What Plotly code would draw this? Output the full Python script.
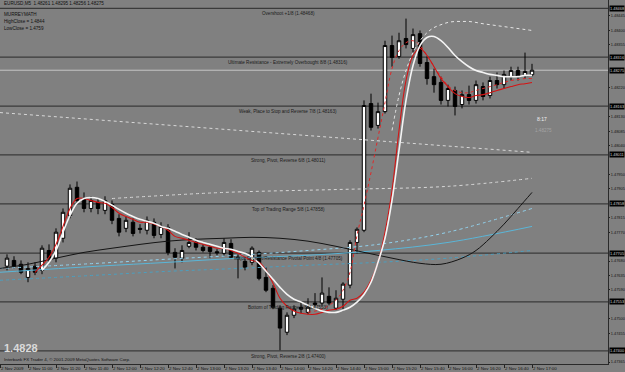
import plotly.graph_objects as go
import pandas as pd

# ---------------- data ----------------
times = pd.date_range("2009-11-02 10:45", periods=76, freq="5min")

opens = [1.47664, 1.47682, 1.47670, 1.47629, 1.47664, 1.47651, 1.47713, 1.47689, 1.47751, 1.47822,
         1.47910, 1.47875, 1.47844, 1.47863, 1.47838, 1.47857, 1.47813, 1.47782, 1.47801, 1.47782,
         1.47776, 1.47801, 1.47763, 1.47785, 1.47707, 1.47689, 1.47726, 1.47738, 1.47723, 1.47723,
         1.47709, 1.47704, 1.47735, 1.47692, 1.47679, 1.47676, 1.47707, 1.47629, 1.47595, 1.47533,
         1.47458, 1.47511, 1.47536, 1.47520, 1.47549, 1.47549, 1.47570, 1.47533, 1.47561, 1.47605,
         1.47738, 1.47776, 1.48171, 1.48103, 1.48146, 1.48352, 1.48318, 1.48374, 1.48343, 1.48389,
         1.48299, 1.48255, 1.48237, 1.48181, 1.48212, 1.48168, 1.48199, 1.48181, 1.48224, 1.48196,
         1.48243, 1.48230, 1.48255, 1.48274, 1.48259, 1.48261]
highs = [1.47701, 1.47695, 1.47682, 1.47676, 1.47676, 1.47729, 1.47732, 1.47782, 1.47844, 1.47919,
         1.47928, 1.47894, 1.47882, 1.47875, 1.47882, 1.47869, 1.47826, 1.47819, 1.47813, 1.47795,
         1.47819, 1.47813, 1.47801, 1.47795, 1.47720, 1.47729, 1.47770, 1.47751, 1.47732, 1.47729,
         1.47717, 1.47751, 1.47748, 1.47701, 1.47689, 1.47726, 1.47713, 1.47661, 1.47605, 1.47542,
         1.47520, 1.47542, 1.47552, 1.47564, 1.47580, 1.47629, 1.47598, 1.47589, 1.47614, 1.47745,
         1.47785, 1.48181, 1.48202, 1.48174, 1.48367, 1.48383, 1.48392, 1.48436, 1.48405, 1.48399,
         1.48318, 1.48280, 1.48255, 1.48230, 1.48224, 1.48212, 1.48227, 1.48243, 1.48237, 1.48255,
         1.48268, 1.48274, 1.48286, 1.48286, 1.48330, 1.48295]
lows = [1.47651, 1.47657, 1.47639, 1.47614, 1.47636, 1.47639, 1.47676, 1.47676, 1.47738, 1.47813,
        1.47860, 1.47832, 1.47832, 1.47826, 1.47826, 1.47795, 1.47757, 1.47770, 1.47757, 1.47766,
        1.47763, 1.47751, 1.47751, 1.47698, 1.47657, 1.47676, 1.47720, 1.47713, 1.47707, 1.47689,
        1.47698, 1.47695, 1.47686, 1.47626, 1.47651, 1.47667, 1.47620, 1.47583, 1.47530, 1.47402,
        1.47449, 1.47502, 1.47517, 1.47514, 1.47539, 1.47542, 1.47542, 1.47527, 1.47527, 1.47595,
        1.47704, 1.47770, 1.48087, 1.48093, 1.48140, 1.48286, 1.48311, 1.48343, 1.48330, 1.48286,
        1.48230, 1.48205, 1.48168, 1.48162, 1.48134, 1.48156, 1.48168, 1.48171, 1.48181, 1.48187,
        1.48218, 1.48218, 1.48243, 1.48243, 1.48249, 1.48256]
closes = [1.47689, 1.47664, 1.47645, 1.47657, 1.47645, 1.47720, 1.47689, 1.47770, 1.47832, 1.47907,
          1.47869, 1.47844, 1.47869, 1.47844, 1.47869, 1.47807, 1.47770, 1.47807, 1.47766, 1.47779,
          1.47807, 1.47760, 1.47788, 1.47707, 1.47692, 1.47713, 1.47738, 1.47723, 1.47713, 1.47710,
          1.47706, 1.47738, 1.47692, 1.47690, 1.47661, 1.47720, 1.47626, 1.47589, 1.47536, 1.47471,
          1.47511, 1.47530, 1.47530, 1.47536, 1.47545, 1.47580, 1.47549, 1.47564, 1.47608, 1.47738,
          1.47779, 1.48165, 1.48097, 1.48146, 1.48352, 1.48315, 1.48367, 1.48355, 1.48386, 1.48296,
          1.48249, 1.48230, 1.48181, 1.48218, 1.48162, 1.48199, 1.48181, 1.48230, 1.48193, 1.48243,
          1.48230, 1.48262, 1.48274, 1.48255, 1.48271, 1.48275]

# fast moving average (white) from 10:55, red from 10:50
white_ma = [1.47651, 1.47676, 1.47713, 1.47770, 1.47822, 1.47860, 1.47875, 1.47878, 1.47875, 1.47866,
            1.47854, 1.47841, 1.47829, 1.47819, 1.47810, 1.47804, 1.47798, 1.47788, 1.47782, 1.47773,
            1.47763, 1.47754, 1.47745, 1.47738, 1.47732, 1.47726, 1.47720, 1.47717, 1.47710, 1.47704,
            1.47692, 1.47673, 1.47648, 1.47623, 1.47598, 1.47576, 1.47561, 1.47552, 1.47542, 1.47533,
            1.47524, 1.47520, 1.47520, 1.47527, 1.47536, 1.47552, 1.47576, 1.47614, 1.47676, 1.47751,
            1.47869, 1.48025, 1.48181, 1.48290, 1.48352, 1.48377, 1.48380, 1.48367, 1.48346, 1.48321,
            1.48302, 1.48286, 1.48274, 1.48268, 1.48262, 1.48259, 1.48255, 1.48255, 1.48255, 1.48259,
            1.48259]
red_ma = [1.47645, 1.47667, 1.47692, 1.47732, 1.47788, 1.47844, 1.47875, 1.47875, 1.47869, 1.47863,
          1.47860, 1.47847, 1.47829, 1.47819, 1.47810, 1.47801, 1.47801, 1.47795, 1.47788, 1.47776,
          1.47757, 1.47751, 1.47745, 1.47738, 1.47732, 1.47726, 1.47720, 1.47720, 1.47713, 1.47704,
          1.47692, 1.47682, 1.47676, 1.47651, 1.47611, 1.47564, 1.47539, 1.47524, 1.47517, 1.47514,
          1.47514, 1.47520, 1.47527, 1.47530, 1.47539, 1.47558, 1.47564, 1.47583, 1.47620, 1.47676,
          1.47770, 1.47900, 1.48087, 1.48243, 1.48321, 1.48343, 1.48321, 1.48286, 1.48249, 1.48224,
          1.48202, 1.48193, 1.48190, 1.48196, 1.48199, 1.48205, 1.48212, 1.48218, 1.48224, 1.48230,
          1.48233, 1.48237]
# leading red dotted line from 14:20
red_dot = [1.47520, 1.47524, 1.47530, 1.47542, 1.47558, 1.47589, 1.47645, 1.47760, 1.47854, 1.47956,
           1.48065, 1.48174, 1.48280, 1.48336, 1.48361, 1.48367, 1.48352, 1.48321, 1.48286, 1.48255,
           1.48227, 1.48212, 1.48205, 1.48205, 1.48212, 1.48218, 1.48224, 1.48230, 1.48237, 1.48243,
           1.48246, 1.48249, 1.48249]
# upper white dotted envelope from 15:20
white_dot = [1.48087, 1.48196, 1.48274, 1.48330, 1.48367, 1.48392, 1.48408, 1.48417, 1.48424, 1.48427,
             1.48427, 1.48427, 1.48424, 1.48420, 1.48417, 1.48414, 1.48411, 1.48408, 1.48405, 1.48402,
             1.48399]

black_t = ["10:40", "11:00", "11:20", "11:40", "12:00", "12:20", "12:40", "13:00", "13:20", "13:40",
           "14:00", "14:20", "14:40", "15:00", "15:20", "15:40", "15:55", "16:10", "16:20", "16:30",
           "16:40", "16:50", "17:00"]
black_ma = [1.47657, 1.47670, 1.47689, 1.47707, 1.47720, 1.47732, 1.47742, 1.47748, 1.47751, 1.47754,
            1.47751, 1.47742, 1.47726, 1.47707, 1.47689, 1.47673, 1.47670, 1.47689, 1.47713, 1.47751,
            1.47795, 1.47844, 1.47894]

teal_t = ["10:40", "11:50", "12:40", "13:30", "14:20", "15:10", "16:00", "17:00"]
teal_a = [1.47645, 1.47664, 1.47676, 1.47689, 1.47698, 1.47713, 1.47738, 1.47788]
teal_b = [1.47657, 1.47673, 1.47686, 1.47698, 1.47713, 1.47732, 1.47770, 1.47844]
teal_c = [1.47620, 1.47636, 1.47648, 1.47657, 1.47667, 1.47676, 1.47689, 1.47713]

wd1_t = ["10:40", "12:40", "14:20", "16:00", "17:00"]
wd1 = [1.48143, 1.48104, 1.48072, 1.48039, 1.48019]
wd2_t = ["12:00", "13:20", "14:40", "16:00", "17:00"]
wd2 = [1.47875, 1.47894, 1.47903, 1.47913, 1.47938]

mm_levels = [1.48468, 1.48316, 1.48163, 1.48011, 1.47858, 1.47705, 1.47553, 1.47400]
mm_labels = ["Overshoot +1/8 (1.48468)",
             "Ultimate Resistance - Extremely Overbought 8/8 (1.48316)",
             "Weak, Place to Stop and Reverse 7/8 (1.48163)",
             "Strong, Pivot, Reverse 6/8 (1.48011)",
             "Top of Trading Range 5/8 (1.47858)",
             "Major Support/Resistance Pivotal Point 4/8 (1.47705)",
             "Bottom of Trading Range 3/8 (1.47553)",
             "Strong, Pivot, Reverse 2/8 (1.47400)"]
bid = 1.48275

y_ticks = [1.48445, 1.48400, 1.48355, 1.48220, 1.48130, 1.48085, 1.48040,
           1.47950, 1.47905, 1.47815, 1.47770, 1.47680, 1.47635, 1.47590,
           1.47500, 1.47455, 1.47365]
x_tick_times = ["10:40", "11:00", "11:20", "11:40", "12:00", "12:20", "12:40", "13:00", "13:20", "13:40",
                "14:00", "14:20", "14:40", "15:00", "15:20", "15:40", "16:00", "16:20", "16:40", "17:00"]
x_tick_text = ["2 Nov 2009"] + ["2 Nov " + t for t in x_tick_times[1:]]

DAY = "2009-11-02 "
def tt(lst):
    return [DAY + t for t in lst]

# ---------------- figure ----------------
BG = "#808080"
FONT = "Liberation Sans"
AX = 3.9
fig = go.Figure()

fig.add_trace(go.Candlestick(
    x=times, open=opens, high=highs, low=lows, close=closes,
    increasing=dict(line=dict(color="#000000", width=1), fillcolor="#ffffff"),
    decreasing=dict(line=dict(color="#000000", width=1), fillcolor="#000000"),
    whiskerwidth=0, hoverinfo="skip"))

def add_line(x, y, color, width=1, dash="solid", shape="spline"):
    fig.add_trace(go.Scatter(x=x, y=y, mode="lines", hoverinfo="skip",
                             line=dict(color=color, width=width, dash=dash, shape=shape)))

add_line(tt(teal_t), teal_c, "#4c9fbf", 1, "dot")
add_line(tt(teal_t), teal_a, "#5ab6d8", 1, "solid")
add_line(tt(teal_t), teal_b, "#92d2ee", 1, "dot")
add_line(tt(wd1_t), wd1, "#d8d8d8", 1, "dot", "linear")
add_line(tt(wd2_t), wd2, "#d8d8d8", 1, "dot")
add_line(tt(black_t), black_ma, "#141414", 1)
add_line(times[43:], red_dot, "#e02828", 1, "dot")
add_line(times[55:], white_dot, "#e6e6e6", 1, "dot")
add_line(times[4:], red_ma, "#d41414", 1.1)
add_line(times[5:], white_ma, "#f4f4f4", 1.6)

shapes = []
for lv in mm_levels:
    shapes.append(dict(type="line", xref="paper", x0=0, x1=1, yref="y", y0=lv, y1=lv,
                       line=dict(color="#3a3a3a", width=1.2), layer="below"))
shapes.append(dict(type="line", xref="paper", x0=0, x1=1, yref="y", y0=bid, y1=bid,
                   line=dict(color="#c4c4c4", width=1), layer="below"))

ann = []
for lv, lab in zip(mm_levels, mm_labels):
    ann.append(dict(xref="paper", x=0.474, yref="y", y=lv, yanchor="top", yshift=-1,
                    text=lab, showarrow=False, font=dict(family=FONT, size=4.6, color="#1c1c1c")))
for lv in mm_levels + [bid]:
    ann.append(dict(xref="paper", x=1, xanchor="left", xshift=1, yref="y", y=lv,
                    text="%.5f" % lv, showarrow=False, bgcolor="#000000", borderpad=0,
                    font=dict(family=FONT, size=AX, color="#cfcfcf")))
# info texts
ann.append(dict(xref="paper", yref="paper", x=0.004, y=1.0, xanchor="left", yanchor="top", yshift=1,
                text="EURUSD,M5  1.48261 1.48295 1.48256 1.48275", showarrow=False,
                font=dict(family=FONT, size=4.6, color="#101010")))
for i, s in enumerate(["MURREYMATH", "HighClose = 1.4844", "LowClose = 1.4759"]):
    ann.append(dict(xref="paper", yref="paper", x=0.004, y=1.0, xanchor="left", yanchor="top",
                    yshift=-10 - 7 * i, text=s, showarrow=False,
                    font=dict(family=FONT, size=4.6, color="#101010")))
ann.append(dict(xref="paper", yref="paper", x=0.004, y=0, xanchor="left", yanchor="bottom", yshift=8,
                text="<b>1.4828</b>", showarrow=False, font=dict(family=FONT, size=11, color="#dadada")))
ann.append(dict(xref="paper", yref="paper", x=0.004, y=0, xanchor="left", yanchor="bottom", yshift=0,
                text="Interbank FX Trader 4, \u00a9 2001-2009 MetaQuotes Software Corp.", showarrow=False,
                font=dict(family=FONT, size=4.4, color="#141414")))
ann.append(dict(xref="x", yref="y", x=DAY + "17:02", y=1.48123, xanchor="left",
                text="8:17", showarrow=False, font=dict(family=FONT, size=5, color="#f0f0f0")))
ann.append(dict(xref="x", yref="y", x=DAY + "17:01", y=1.48087, xanchor="left",
                text="1.48275", showarrow=False, font=dict(family=FONT, size=4.6, color="#a4a4a4")))

fig.update_layout(
    width=625, height=372, margin=dict(l=0, r=17, t=0, b=8, autoexpand=False),
    paper_bgcolor=BG, plot_bgcolor=BG, showlegend=False,
    shapes=shapes, annotations=ann,
    xaxis=dict(type="date", range=[DAY + "10:40", DAY + "17:54:17"], rangeslider=dict(visible=False),
               showgrid=False, zeroline=False, showline=True, linecolor="#2a2a2a", linewidth=1,
               tickvals=tt(x_tick_times), ticktext=x_tick_text, ticks="outside", ticklen=3,
               tickcolor="#222222", ticklabelposition="outside right", tickangle=0, automargin=False,
               tickfont=dict(family=FONT, size=4.4, color="#141414")),
    yaxis=dict(side="right", range=[1.47359, 1.48494], showgrid=False, zeroline=False,
               showline=True, linecolor="#2a2a2a", linewidth=1, automargin=False,
               tickvals=y_ticks, tickformat=".5f", ticks="outside", ticklen=1, tickcolor="#222222",
               ticklabelstandoff=0,
               tickfont=dict(family=FONT, size=AX, color="#141414")),
)

fig.write_html("out.html")
